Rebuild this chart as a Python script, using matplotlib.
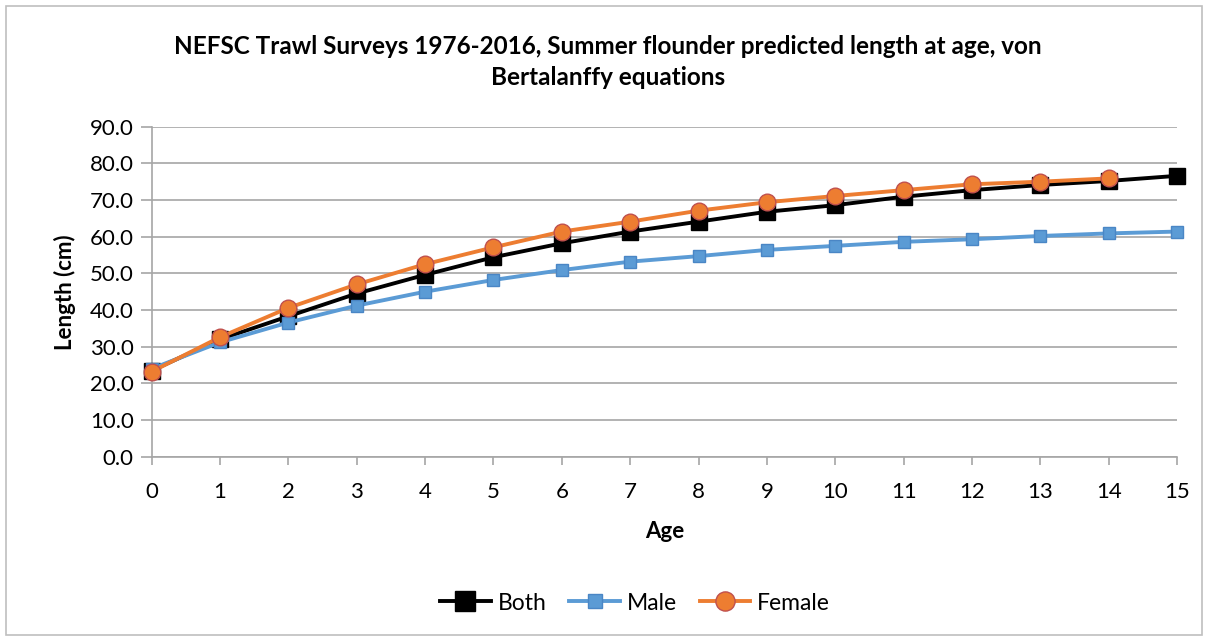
import matplotlib
matplotlib.use("Agg")
import matplotlib.pyplot as plt
from matplotlib.patches import Rectangle

ages = list(range(16))
both = [23.5, 32.0, 38.3, 44.5, 49.6, 54.4, 58.2, 61.4, 64.1, 66.8, 68.6, 70.9, 72.7, 74.1, 75.2, 76.6]
male = [24.0, 31.2, 36.6, 41.2, 45.0, 48.2, 50.9, 53.2, 54.7, 56.4, 57.5, 58.6, 59.3, 60.2, 60.9, 61.4]
female = [23.2, 32.6, 40.6, 47.0, 52.5, 57.1, 61.4, 64.1, 67.1, 69.4, 71.1, 72.7, 74.3, 75.0, 75.9]
yticks = [0, 10, 20, 30, 40, 50, 60, 70, 80, 90]
title = "NEFSC Trawl Surveys 1976-2016, Summer flounder predicted length at age, von\nBertalanffy equations"

plt.rcParams['font.family'] = ['Lato', 'DejaVu Sans']

W, H = 1208, 641
fig = plt.figure(figsize=(W / 100, H / 100), dpi=100)
fig.patches.append(Rectangle((6 / W, 6 / H), 1 - 12 / W, 1 - 12 / H, transform=fig.transFigure,
                             fill=False, edgecolor='#BFBFBF', linewidth=1.2))

ax = fig.add_axes([151.7 / W, 1 - 456.7 / H, (1177 - 151.7) / W, (456.7 - 126.7) / H])
grid_c = '#A6A6A6'
ax.set_xlim(0, 15)
ax.set_ylim(0, 90)
ax.set_yticks(yticks)
ax.set_yticklabels([f"{v:.1f}" for v in yticks])
ax.set_xticks(ages)
ax.grid(axis='y', color=grid_c, linewidth=1.2)
ax.set_axisbelow(True)
for s in ['top', 'right']:
    ax.spines[s].set_visible(False)
for s in ['left', 'bottom']:
    ax.spines[s].set_color(grid_c)
    ax.spines[s].set_linewidth(1.2)
ax.tick_params(axis='y', length=8, color=grid_c, width=1.2, labelsize=16, pad=5)
ax.tick_params(axis='x', length=6, color=grid_c, width=1.2, labelsize=16, pad=12)

ax.plot(ages, both, color='black', linewidth=2.8, marker='s', markersize=12,
        markerfacecolor='black', markeredgecolor='black', label='Both', clip_on=False, zorder=3)
ax.plot(ages, male, color='#5B9BD5', linewidth=2.8, marker='s', markersize=9,
        markerfacecolor='#5B9BD5', markeredgecolor='#4A86C5', label='Male', clip_on=False, zorder=4)
ax.plot(ages[:len(female)], female, color='#ED7D31', linewidth=2.8, marker='o', markersize=12,
        markerfacecolor='#ED7D31', markeredgecolor='#C0504D', markeredgewidth=1.0,
        label='Female', clip_on=False, zorder=5)

ax.set_xlabel('Age', fontsize=16, fontweight='bold', labelpad=14)
ax.set_ylabel('Length (cm)', fontsize=16, fontweight='bold', labelpad=10)

fig.text(608 / W, 1 - 62 / H, title, ha='center', va='center', fontsize=17.5,
         fontweight='bold', linespacing=1.45)

fig.legend(loc='center', bbox_to_anchor=(635 / W, 1 - 603 / H), ncol=3, frameon=False,
           fontsize=16.5, handlelength=2.2, columnspacing=1.0, handletextpad=0.3,
           markerscale=1.15)

fig.savefig('out.png', dpi=100)
